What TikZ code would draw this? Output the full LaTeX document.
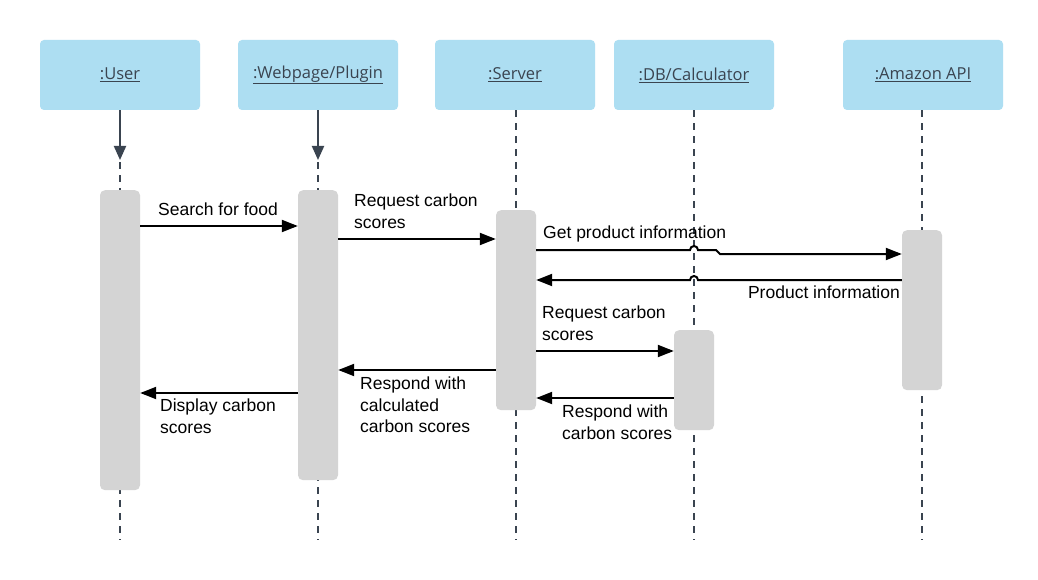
\documentclass[tikz,border=0pt]{standalone}
\usepackage{fontspec}
\setmainfont{Liberation Sans}
\newfontfamily\hdrfont{Open Sans}
\usetikzlibrary{arrows.meta}
\definecolor{hdrblue}{HTML}{ADDEF2}
\definecolor{bargray}{HTML}{D4D4D4}
\definecolor{slate}{HTML}{3A4450}
\begin{document}
\begin{tikzpicture}[x=1pt,y=-1pt,
 hdr/.style={draw=none,fill=hdrblue,rounded corners=4pt,minimum width=160pt,minimum height=70pt,inner sep=0,font=\hdrfont\fontsize{16.5}{18}\selectfont,text=slate},
 actbar/.style={fill=bargray,rounded corners=5pt,minimum width=40pt,inner sep=0,anchor=north},
 life/.style={slate,line width=1.5pt,dash pattern=on 7pt off 6pt},
 create/.style={slate,line width=2pt,-{Triangle[length=14pt,width=12pt]}},
 msg/.style={black,line width=2pt,-{Triangle[length=16pt,width=12pt]}},
 lbl/.style={inner sep=0,align=left,font=\fontsize{17.5}{21.5}\selectfont}]
\useasboundingbox[fill=white] (0,0) rectangle (1038,580);
% headers
\node[hdr] (user) at (120,75) {\underline{:User}};
\node[hdr] (web) at (318,75) {\underline{:Webpage/Plugin}};
\node[hdr] (srv) at (515,75) {\underline{:Server}};
\node[hdr] (db) at (694,75) {\underline{:DB/Calculator}};
\node[hdr] (amz) at (923,75) {\underline{:Amazon API}};
% lifelines
\draw[life] (user.south) -- ++(0,430);
\draw[life] (web.south) -- ++(0,430);
\draw[life] ([xshift=1pt]srv.south) -- ++(0,430);
\draw[life] (db.south) -- ++(0,430);
\draw[life] ([xshift=-1pt]amz.south) -- ++(0,430);
\coordinate (uarr) at (120,160);
\coordinate (warr) at (318,160);
\draw[create] (user.south) -- (uarr);
\draw[create] (web.south) -- (warr);
% activation bars
\node[actbar,minimum height=300pt] (ubar) at (120,190) {};
\node[actbar,minimum height=290pt] (wbar) at (318,190) {};
\node[actbar,minimum height=200pt] (sbar) at (516,210) {};
\node[actbar,minimum height=100pt] (dbar) at (694,330) {};
\node[actbar,minimum height=160pt] (abar) at (922,230) {};
% messages
\draw[msg] (ubar.east |- 0,226) -- (wbar.west |- 0,226);
\draw[msg] (wbar.east |- 0,239) -- (sbar.west |- 0,239);
\draw[msg] (sbar.east |- 0,250) -- ([xshift=-4pt]dbar.center |- 0,250)
  arc[start angle=180,end angle=0,radius=4pt] -- (716,250) -- (720,254) -- (abar.west |- 0,254);
\draw[msg] (abar.west |- 0,280) -- ([xshift=4pt]dbar.center |- 0,280)
  arc[start angle=0,end angle=180,radius=4pt] -- (sbar.east |- 0,280);
\draw[msg] (sbar.east |- 0,351) -- (dbar.west |- 0,351);
\draw[msg] (dbar.west |- 0,398) -- (sbar.east |- 0,398);
\draw[msg] (sbar.west |- 0,370) -- (wbar.east |- 0,370);
\draw[msg] (wbar.west |- 0,393) -- (ubar.east |- 0,393);
% labels
\node[lbl,anchor=north west] (l1) at (158,203) {Search for food};
\node[lbl,anchor=north west] (l2) at (354,194) {Request carbon\\scores};
\node[lbl,anchor=north west] (l3) at (543,226) {Get product information};
\node[lbl,anchor=north east] (l4) at (900,286) {Product information};
\node[lbl,anchor=north west] (l5) at (542,306) {Request carbon\\scores};
\node[lbl,anchor=north west] (l6) at (562,405) {Respond with\\carbon scores};
\node[lbl,anchor=north west] (l7) at (360,377) {Respond with\\calculated\\carbon scores};
\node[lbl,anchor=north west] (l8) at (160,399) {Display carbon\\scores};
\end{tikzpicture}
\end{document}
